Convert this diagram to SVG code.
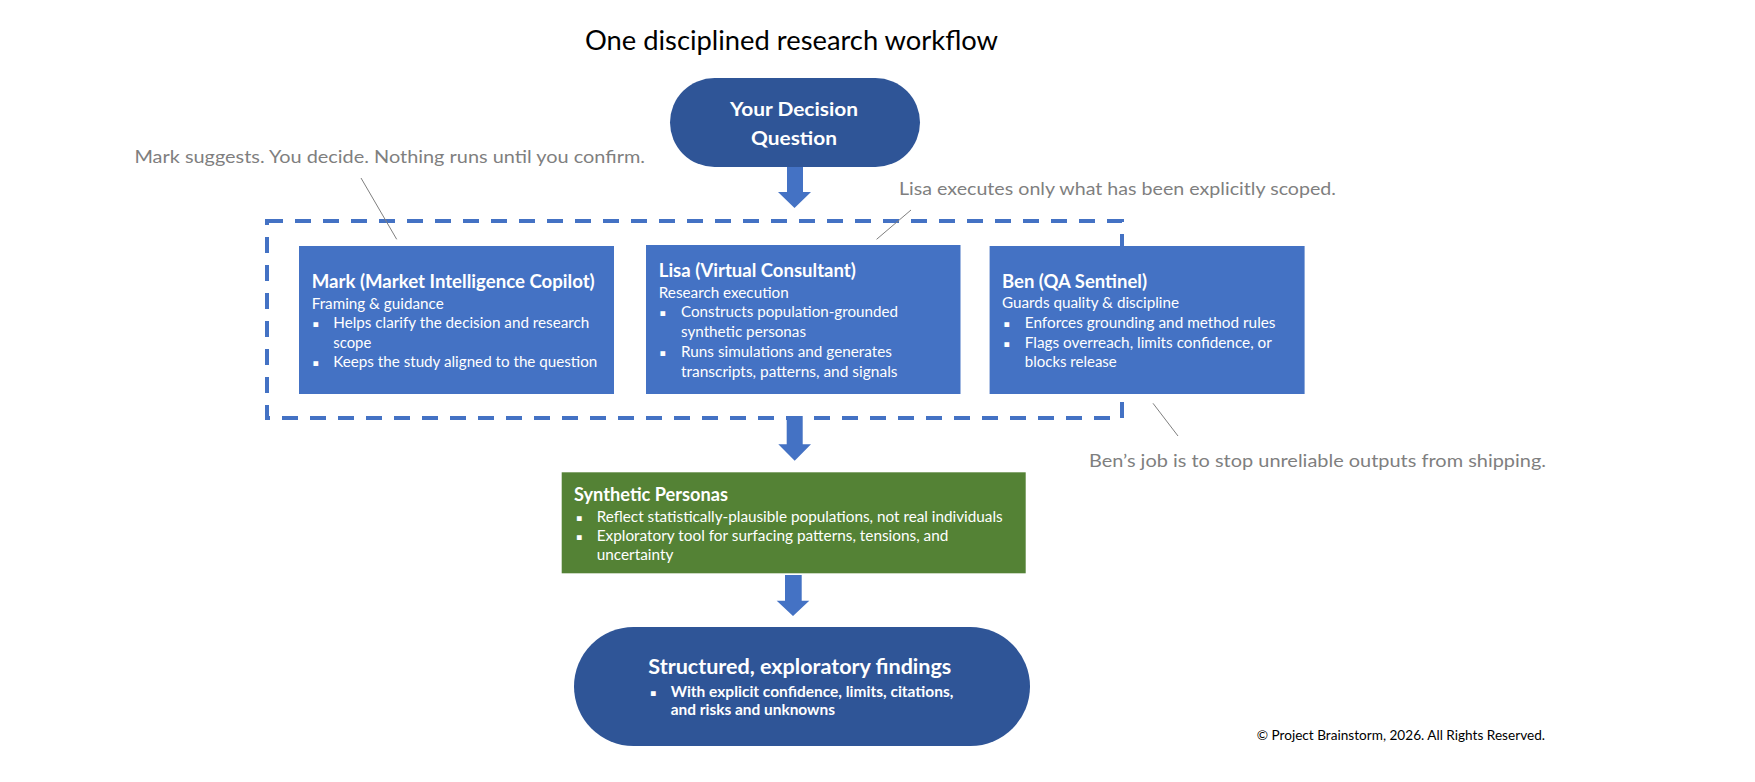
<svg xmlns="http://www.w3.org/2000/svg" width="1755" height="782" viewBox="0 0 1755 782">
<style>
  text { font-family: Lato, "Liberation Sans", sans-serif; }
  .ttl { font-size: 26.4px; fill: #000; }
  .note { font-size: 18px; fill: #7F7F7F; }
  .hd { font-size: 18px; font-weight: bold; fill: #fff; }
  .bd { font-size: 14.5px; fill: #fff; }
  .bdb { font-size: 14.5px; fill: #fff; font-weight: bold; }
  .big { font-size: 20.7px; font-weight: bold; fill: #fff; }
  .bul { font-family: "DejaVu Sans", sans-serif; font-size: 9.5px; fill: #fff; }
  .copy { font-size: 13.2px; fill: #000; }
  .box { fill: #4472C4; }
  .pill { fill: #2F5597; }
  .green { fill: #548235; }
  .arrow { fill: #4472C4; }
  .leader { stroke: #7F7F7F; stroke-width: 1; fill: none; }
</style>
<rect width="1755" height="782" fill="#fff"/>

<text class="ttl" x="585" y="50" textLength="413" lengthAdjust="spacingAndGlyphs">One disciplined research workflow</text>

<g id="decision-question">
  <rect class="pill" x="670" y="78" width="250" height="89" rx="44.5"/>
  <text class="hd" x="730" y="116" textLength="128" lengthAdjust="spacingAndGlyphs">Your Decision</text>
  <text class="hd" x="751" y="145" textLength="86" lengthAdjust="spacingAndGlyphs">Question</text>
</g>

<g id="agents-group">
  <rect x="267" y="221" width="855" height="197" fill="none" stroke="#4472C4" stroke-width="4" stroke-dasharray="16 12"/>
</g>

<g id="mark">
  <rect class="box" x="299" y="246" width="315" height="148"/>
  <text class="hd" x="311.7" y="288" textLength="283" lengthAdjust="spacingAndGlyphs">Mark (Market Intelligence Copilot)</text>
  <text class="bd" x="311.7" y="309" textLength="132" lengthAdjust="spacingAndGlyphs">Framing &amp; guidance</text>
  <text class="bul" x="312.5" y="327">▪</text>
  <text class="bd" x="333.3" y="328" textLength="256" lengthAdjust="spacingAndGlyphs">Helps clarify the decision and research</text>
  <text class="bd" x="333.3" y="348" textLength="38" lengthAdjust="spacingAndGlyphs">scope</text>
  <text class="bul" x="312.5" y="366">▪</text>
  <text class="bd" x="333.3" y="367" textLength="264" lengthAdjust="spacingAndGlyphs">Keeps the study aligned to the question</text>
</g>

<g id="lisa">
  <rect class="box" x="646" y="245" width="314.5" height="149"/>
  <text class="hd" x="658.75" y="277" textLength="197" lengthAdjust="spacingAndGlyphs">Lisa (Virtual Consultant)</text>
  <text class="bd" x="658.75" y="297.7" textLength="130" lengthAdjust="spacingAndGlyphs">Research execution</text>
  <text class="bul" x="659.5" y="316.3">▪</text>
  <text class="bd" x="681" y="317.3" textLength="217" lengthAdjust="spacingAndGlyphs">Constructs population-grounded</text>
  <text class="bd" x="681" y="336.7" textLength="125" lengthAdjust="spacingAndGlyphs">synthetic personas</text>
  <text class="bul" x="659.5" y="355.7">▪</text>
  <text class="bd" x="681" y="356.7" textLength="211" lengthAdjust="spacingAndGlyphs">Runs simulations and generates</text>
  <text class="bd" x="681" y="376.7" textLength="216.5" lengthAdjust="spacingAndGlyphs">transcripts, patterns, and signals</text>
</g>

<g id="ben">
  <rect class="box" x="989.6" y="246" width="315" height="148"/>
  <text class="hd" x="1002" y="288.3" textLength="145" lengthAdjust="spacingAndGlyphs">Ben (QA Sentinel)</text>
  <text class="bd" x="1002" y="308.3" textLength="177" lengthAdjust="spacingAndGlyphs">Guards quality &amp; discipline</text>
  <text class="bul" x="1003.5" y="326.5">▪</text>
  <text class="bd" x="1024.8" y="327.5" textLength="250.7" lengthAdjust="spacingAndGlyphs">Enforces grounding and method rules</text>
  <text class="bul" x="1003.5" y="346.5">▪</text>
  <text class="bd" x="1024.8" y="347.5" textLength="247" lengthAdjust="spacingAndGlyphs">Flags overreach, limits confidence, or</text>
  <text class="bd" x="1024.8" y="367" textLength="92" lengthAdjust="spacingAndGlyphs">blocks release</text>
</g>

<g id="synthetic-personas">
  <rect class="green" x="561.7" y="472.3" width="464" height="101"/>
  <text class="hd" x="574" y="500.7" textLength="154" lengthAdjust="spacingAndGlyphs">Synthetic Personas</text>
  <text class="bul" x="576" y="520.7">▪</text>
  <text class="bd" x="596.7" y="521.7" textLength="406" lengthAdjust="spacingAndGlyphs">Reflect statistically-plausible populations, not real individuals</text>
  <text class="bul" x="576" y="539.7">▪</text>
  <text class="bd" x="596.7" y="540.7" textLength="351.7" lengthAdjust="spacingAndGlyphs">Exploratory tool for surfacing patterns, tensions, and</text>
  <text class="bd" x="596.7" y="560" textLength="76.7" lengthAdjust="spacingAndGlyphs">uncertainty</text>
</g>

<g id="findings">
  <rect class="pill" x="574" y="627" width="456" height="119" rx="59.5"/>
  <text class="big" x="648.3" y="674" textLength="303" lengthAdjust="spacingAndGlyphs">Structured, exploratory findings</text>
  <text class="bul" x="650" y="695.7">▪</text>
  <text class="bdb" x="670.7" y="696.7" textLength="282.7" lengthAdjust="spacingAndGlyphs">With explicit confidence, limits, citations,</text>
  <text class="bdb" x="670.7" y="715" textLength="164.3" lengthAdjust="spacingAndGlyphs">and risks and unknowns</text>
</g>

<g id="annotations">
  <text class="note" x="134.4" y="163" textLength="510.6" lengthAdjust="spacingAndGlyphs">Mark suggests. You decide. Nothing runs until you confirm.</text>
  <text class="note" x="899" y="195" textLength="437" lengthAdjust="spacingAndGlyphs">Lisa executes only what has been explicitly scoped.</text>
  <text class="note" x="1089" y="467" textLength="457" lengthAdjust="spacingAndGlyphs">Ben’s job is to stop unreliable outputs from shipping.</text>
</g>

<g id="connectors">
  <polygon class="arrow" points="787,167 803,167 803,192 811,192 794.5,208 778,192 787,192"/>
  <polygon class="arrow" points="786.7,416 802.7,416 802.7,444.3 811,444.3 794.7,460.7 778.3,444.3 786.7,444.3"/>
  <polygon class="arrow" points="785,575 801.7,575 801.7,600.7 809.3,600.7 793,616 776.7,600.7 785,600.7"/>
  <line class="leader" x1="361" y1="178" x2="396.7" y2="239.3"/>
  <line class="leader" x1="911" y1="210" x2="876.6" y2="239.3"/>
  <line class="leader" x1="1153" y1="403.3" x2="1178" y2="436"/>
</g>

<text class="copy" x="1256.7" y="740" textLength="288.3" lengthAdjust="spacingAndGlyphs">© Project Brainstorm, 2026. All Rights Reserved.</text>
</svg>
